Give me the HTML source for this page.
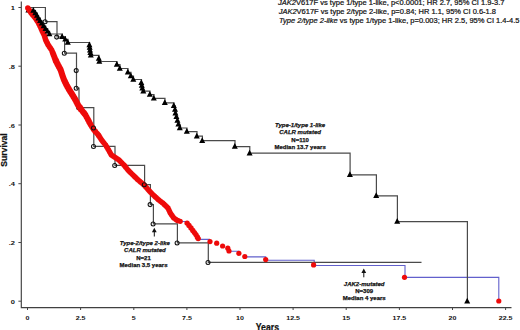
<!DOCTYPE html>
<html><head><meta charset="utf-8"><style>
html,body{margin:0;padding:0;background:#fff;width:520px;height:330px;overflow:hidden}
svg{display:block}
text{font-family:"Liberation Sans",sans-serif;fill:#111;stroke:#111;stroke-width:0.22px}
.tk{font-size:6.8px;font-weight:bold;stroke-width:0}
.ax{font-size:10px;font-weight:bold}
.ax2{font-size:9px;font-weight:bold}
.hd{font-size:7.6px}
.an{font-size:6px;font-weight:bold;stroke-width:0.25px}
</style></head><body>
<svg width="520" height="330" viewBox="0 0 520 330">
<path d="M21.3 1.6V307.6H511.5" fill="none" stroke="#404040" stroke-width="1.15"/>
<path d="M18.4 7.5H21 M18.4 66.2H21 M18.4 125.0H21 M18.4 183.7H21 M18.4 242.5H21 M18.4 301.2H21" stroke="#454545" stroke-width="1"/>
<text transform="translate(15 10.1) scale(1.1 0.86)" text-anchor="end" class="tk">1</text>
<text transform="translate(15 68.8) scale(1.1 0.86)" text-anchor="end" class="tk">.8</text>
<text transform="translate(15 127.6) scale(1.1 0.86)" text-anchor="end" class="tk">.6</text>
<text transform="translate(15 186.3) scale(1.1 0.86)" text-anchor="end" class="tk">.4</text>
<text transform="translate(15 245.1) scale(1.1 0.86)" text-anchor="end" class="tk">.2</text>
<text transform="translate(15 303.8) scale(1.1 0.86)" text-anchor="end" class="tk">0</text>
<path d="M27.5 307.6V310 M80.6 307.6V310 M133.8 307.6V310 M186.9 307.6V310 M240.0 307.6V310 M293.1 307.6V310 M346.2 307.6V310 M399.4 307.6V310 M452.5 307.6V310 M505.6 307.6V310" stroke="#454545" stroke-width="1"/>
<text transform="translate(27.5 320.4) scale(1.04 0.9)" text-anchor="middle" class="tk">0</text>
<text transform="translate(80.6 320.4) scale(1.04 0.9)" text-anchor="middle" class="tk">2.5</text>
<text transform="translate(133.8 320.4) scale(1.04 0.9)" text-anchor="middle" class="tk">5</text>
<text transform="translate(186.9 320.4) scale(1.04 0.9)" text-anchor="middle" class="tk">7.5</text>
<text transform="translate(240.0 320.4) scale(1.04 0.9)" text-anchor="middle" class="tk">10</text>
<text transform="translate(293.1 320.4) scale(1.04 0.9)" text-anchor="middle" class="tk">12.5</text>
<text transform="translate(346.2 320.4) scale(1.04 0.9)" text-anchor="middle" class="tk">15</text>
<text transform="translate(399.4 320.4) scale(1.04 0.9)" text-anchor="middle" class="tk">17.5</text>
<text transform="translate(452.5 320.4) scale(1.04 0.9)" text-anchor="middle" class="tk">20</text>
<text transform="translate(505.6 320.4) scale(1.04 0.9)" text-anchor="middle" class="tk">22.5</text>
<text x="255.7" y="330.6" class="ax" textLength="23.4" lengthAdjust="spacingAndGlyphs">Years</text>
<text transform="translate(6.6 166.7) rotate(-90)" class="ax2" textLength="33.4" lengthAdjust="spacingAndGlyphs">Survival</text>
<text x="278" y="5.4" class="hd" textLength="226.5" lengthAdjust="spacingAndGlyphs"><tspan font-style="italic">JAK2</tspan>V617F vs type 1/type 1-like, p&lt;0.0001; HR 2.7, 95% CI 1.9-3.7</text>
<text x="278.7" y="14.4" class="hd" textLength="217.3" lengthAdjust="spacingAndGlyphs"><tspan font-style="italic">JAK2</tspan>V617F vs type 2/type 2-like, p=0.84; HR 1.1, 95% CI 0.6-1.8</text>
<text x="279" y="23.4" class="hd" textLength="240.5" lengthAdjust="spacingAndGlyphs"><tspan font-style="italic">Type 2/type 2-like</tspan> vs type 1/type 1-like, p=0.003; HR 2.5, 95% CI 1.4-4.5</text>
<path d="M180.5 221.5H187V223 M198 239.4H209.5V241.6 M229 251.2H238.9V253.3 M244.8 256.9H265.7V260.3H314.2V265.5H405V277.4H498.8V301" fill="none" stroke="#6260cc" stroke-width="1.1"/>
<path d="M27.5 7.5H45.4V21.6H57V37H64.6V53.2H76.5V70.5H76.5V88.2H79V107.6H93.8V127.8H93.8V146.4H115V165.3H144.6V184.6H150.4V204.5H153.4V223.8H177.4V242.8H208.3V262.4H421.5" fill="none" stroke="#4a4a4a" stroke-width="1.2"/>
<path d="M27.5 7.5H33.5V10.5H35.5V13H37.2V15.6H38.6V18.2H40.3V20.8H42V23.4H43.8V26H45.7V28.7H47.7V31.4H49.6V34H62.3V36.7H65.4V39.4H68V42.5H89.6V45H89.9V47.6H90.2V50.2H90.6V52.8H91V55.4H99V58.5H99.5V61.5H117V64.5H120V68.5H128V72.3H131V76H133.5V79.5H141.5V82.8H142V85.5H142.5V88.2H143.5V91.2H150V94.6H154V98.4H165V102.8H174V105.8H175.2V109.5H175.6V113.2H176.6V116.9H177.6V120.6H178.6V124.3H180V128H187V131.6H197V136.2H202.4V140.7H235V146.6H249.8V153.2H350.1V174.8H376.4V195.8H397.4V221.6H467.4V301.2" fill="none" stroke="#4a4a4a" stroke-width="1.2"/>
<circle cx="78.7" cy="107.7" r="2" fill="none" stroke="#111" stroke-width="1.05"/>
<path d="M28.4 7L31.4 12.6H25.4Z" fill="#000"/>
<path d="M25.05 8.00a2.75 2.75 0 1 0 5.50 0a2.75 2.75 0 1 0 -5.50 0M25.62 8.83a2.75 2.75 0 1 0 5.50 0a2.75 2.75 0 1 0 -5.50 0M26.18 9.67a2.75 2.75 0 1 0 5.50 0a2.75 2.75 0 1 0 -5.50 0M26.75 10.50a2.75 2.75 0 1 0 5.50 0a2.75 2.75 0 1 0 -5.50 0M27.32 11.33a2.75 2.75 0 1 0 5.50 0a2.75 2.75 0 1 0 -5.50 0M27.88 12.17a2.75 2.75 0 1 0 5.50 0a2.75 2.75 0 1 0 -5.50 0M28.45 13.00a2.75 2.75 0 1 0 5.50 0a2.75 2.75 0 1 0 -5.50 0M29.04 13.71a2.75 2.75 0 1 0 5.50 0a2.75 2.75 0 1 0 -5.50 0M29.62 14.43a2.75 2.75 0 1 0 5.50 0a2.75 2.75 0 1 0 -5.50 0M30.21 15.14a2.75 2.75 0 1 0 5.50 0a2.75 2.75 0 1 0 -5.50 0M30.79 15.86a2.75 2.75 0 1 0 5.50 0a2.75 2.75 0 1 0 -5.50 0M31.38 16.57a2.75 2.75 0 1 0 5.50 0a2.75 2.75 0 1 0 -5.50 0M31.96 17.29a2.75 2.75 0 1 0 5.50 0a2.75 2.75 0 1 0 -5.50 0M32.55 18.00a2.75 2.75 0 1 0 5.50 0a2.75 2.75 0 1 0 -5.50 0M33.09 18.80a2.75 2.75 0 1 0 5.50 0a2.75 2.75 0 1 0 -5.50 0M33.63 19.60a2.75 2.75 0 1 0 5.50 0a2.75 2.75 0 1 0 -5.50 0M34.17 20.40a2.75 2.75 0 1 0 5.50 0a2.75 2.75 0 1 0 -5.50 0M34.71 21.20a2.75 2.75 0 1 0 5.50 0a2.75 2.75 0 1 0 -5.50 0M35.25 22.00a2.75 2.75 0 1 0 5.50 0a2.75 2.75 0 1 0 -5.50 0M35.67 22.83a2.75 2.75 0 1 0 5.50 0a2.75 2.75 0 1 0 -5.50 0M36.08 23.67a2.75 2.75 0 1 0 5.50 0a2.75 2.75 0 1 0 -5.50 0M36.50 24.50a2.75 2.75 0 1 0 5.50 0a2.75 2.75 0 1 0 -5.50 0M36.92 25.33a2.75 2.75 0 1 0 5.50 0a2.75 2.75 0 1 0 -5.50 0M37.33 26.17a2.75 2.75 0 1 0 5.50 0a2.75 2.75 0 1 0 -5.50 0M37.75 27.00a2.75 2.75 0 1 0 5.50 0a2.75 2.75 0 1 0 -5.50 0M38.17 28.00a2.75 2.75 0 1 0 5.50 0a2.75 2.75 0 1 0 -5.50 0M38.60 29.00a2.75 2.75 0 1 0 5.50 0a2.75 2.75 0 1 0 -5.50 0M39.03 30.00a2.75 2.75 0 1 0 5.50 0a2.75 2.75 0 1 0 -5.50 0M39.45 31.00a2.75 2.75 0 1 0 5.50 0a2.75 2.75 0 1 0 -5.50 0M39.95 32.00a2.75 2.75 0 1 0 5.50 0a2.75 2.75 0 1 0 -5.50 0M40.45 33.00a2.75 2.75 0 1 0 5.50 0a2.75 2.75 0 1 0 -5.50 0M40.95 34.00a2.75 2.75 0 1 0 5.50 0a2.75 2.75 0 1 0 -5.50 0M41.45 35.00a2.75 2.75 0 1 0 5.50 0a2.75 2.75 0 1 0 -5.50 0M41.75 36.00a2.75 2.75 0 1 0 5.50 0a2.75 2.75 0 1 0 -5.50 0M42.05 37.00a2.75 2.75 0 1 0 5.50 0a2.75 2.75 0 1 0 -5.50 0M42.35 38.00a2.75 2.75 0 1 0 5.50 0a2.75 2.75 0 1 0 -5.50 0M42.65 39.00a2.75 2.75 0 1 0 5.50 0a2.75 2.75 0 1 0 -5.50 0M42.95 40.00a2.75 2.75 0 1 0 5.50 0a2.75 2.75 0 1 0 -5.50 0M43.37 40.83a2.75 2.75 0 1 0 5.50 0a2.75 2.75 0 1 0 -5.50 0M43.78 41.67a2.75 2.75 0 1 0 5.50 0a2.75 2.75 0 1 0 -5.50 0M44.20 42.50a2.75 2.75 0 1 0 5.50 0a2.75 2.75 0 1 0 -5.50 0M44.62 43.33a2.75 2.75 0 1 0 5.50 0a2.75 2.75 0 1 0 -5.50 0M45.03 44.17a2.75 2.75 0 1 0 5.50 0a2.75 2.75 0 1 0 -5.50 0M45.45 45.00a2.75 2.75 0 1 0 5.50 0a2.75 2.75 0 1 0 -5.50 0M46.02 45.83a2.75 2.75 0 1 0 5.50 0a2.75 2.75 0 1 0 -5.50 0M46.58 46.67a2.75 2.75 0 1 0 5.50 0a2.75 2.75 0 1 0 -5.50 0M47.15 47.50a2.75 2.75 0 1 0 5.50 0a2.75 2.75 0 1 0 -5.50 0M47.72 48.33a2.75 2.75 0 1 0 5.50 0a2.75 2.75 0 1 0 -5.50 0M48.28 49.17a2.75 2.75 0 1 0 5.50 0a2.75 2.75 0 1 0 -5.50 0M48.85 50.00a2.75 2.75 0 1 0 5.50 0a2.75 2.75 0 1 0 -5.50 0M49.22 51.00a2.78 2.78 0 1 0 5.56 0a2.78 2.78 0 1 0 -5.56 0M49.59 52.00a2.81 2.81 0 1 0 5.62 0a2.81 2.81 0 1 0 -5.62 0M49.96 53.00a2.84 2.84 0 1 0 5.67 0a2.84 2.84 0 1 0 -5.67 0M50.33 54.00a2.87 2.87 0 1 0 5.73 0a2.87 2.87 0 1 0 -5.73 0M50.70 55.00a2.90 2.90 0 1 0 5.79 0a2.90 2.90 0 1 0 -5.79 0M51.06 56.00a2.92 2.92 0 1 0 5.85 0a2.92 2.92 0 1 0 -5.85 0M51.41 57.00a2.95 2.95 0 1 0 5.91 0a2.95 2.95 0 1 0 -5.91 0M51.76 58.00a2.98 2.98 0 1 0 5.97 0a2.98 2.98 0 1 0 -5.97 0M52.11 59.00a3.01 3.01 0 1 0 6.03 0a3.01 3.01 0 1 0 -6.03 0M52.46 60.00a3.04 3.04 0 1 0 6.08 0a3.04 3.04 0 1 0 -6.08 0M52.85 60.83a3.07 3.07 0 1 0 6.13 0a3.07 3.07 0 1 0 -6.13 0M53.24 61.67a3.09 3.09 0 1 0 6.18 0a3.09 3.09 0 1 0 -6.18 0M53.65 62.50a3.10 3.10 0 1 0 6.20 0a3.10 3.10 0 1 0 -6.20 0M54.07 63.33a3.10 3.10 0 1 0 6.20 0a3.10 3.10 0 1 0 -6.20 0M54.48 64.17a3.10 3.10 0 1 0 6.20 0a3.10 3.10 0 1 0 -6.20 0M54.90 65.00a3.10 3.10 0 1 0 6.20 0a3.10 3.10 0 1 0 -6.20 0M55.35 65.83a3.10 3.10 0 1 0 6.20 0a3.10 3.10 0 1 0 -6.20 0M55.80 66.67a3.10 3.10 0 1 0 6.20 0a3.10 3.10 0 1 0 -6.20 0M56.25 67.50a3.10 3.10 0 1 0 6.20 0a3.10 3.10 0 1 0 -6.20 0M56.70 68.33a3.10 3.10 0 1 0 6.20 0a3.10 3.10 0 1 0 -6.20 0M57.15 69.17a3.10 3.10 0 1 0 6.20 0a3.10 3.10 0 1 0 -6.20 0M57.60 70.00a3.10 3.10 0 1 0 6.20 0a3.10 3.10 0 1 0 -6.20 0M57.92 71.00a3.10 3.10 0 1 0 6.20 0a3.10 3.10 0 1 0 -6.20 0M58.24 72.00a3.10 3.10 0 1 0 6.20 0a3.10 3.10 0 1 0 -6.20 0M58.56 73.00a3.10 3.10 0 1 0 6.20 0a3.10 3.10 0 1 0 -6.20 0M58.88 74.00a3.10 3.10 0 1 0 6.20 0a3.10 3.10 0 1 0 -6.20 0M59.20 75.00a3.10 3.10 0 1 0 6.20 0a3.10 3.10 0 1 0 -6.20 0M59.56 76.00a3.10 3.10 0 1 0 6.20 0a3.10 3.10 0 1 0 -6.20 0M59.92 77.00a3.10 3.10 0 1 0 6.20 0a3.10 3.10 0 1 0 -6.20 0M60.28 78.00a3.10 3.10 0 1 0 6.20 0a3.10 3.10 0 1 0 -6.20 0M60.64 79.00a3.10 3.10 0 1 0 6.20 0a3.10 3.10 0 1 0 -6.20 0M61.00 80.00a3.10 3.10 0 1 0 6.20 0a3.10 3.10 0 1 0 -6.20 0M61.40 80.83a3.10 3.10 0 1 0 6.20 0a3.10 3.10 0 1 0 -6.20 0M61.80 81.67a3.10 3.10 0 1 0 6.20 0a3.10 3.10 0 1 0 -6.20 0M62.20 82.50a3.10 3.10 0 1 0 6.20 0a3.10 3.10 0 1 0 -6.20 0M62.60 83.33a3.10 3.10 0 1 0 6.20 0a3.10 3.10 0 1 0 -6.20 0M63.00 84.17a3.10 3.10 0 1 0 6.20 0a3.10 3.10 0 1 0 -6.20 0M63.40 85.00a3.10 3.10 0 1 0 6.20 0a3.10 3.10 0 1 0 -6.20 0M63.87 85.83a3.10 3.10 0 1 0 6.20 0a3.10 3.10 0 1 0 -6.20 0M64.33 86.67a3.10 3.10 0 1 0 6.20 0a3.10 3.10 0 1 0 -6.20 0M64.80 87.50a3.10 3.10 0 1 0 6.20 0a3.10 3.10 0 1 0 -6.20 0M65.27 88.33a3.10 3.10 0 1 0 6.20 0a3.10 3.10 0 1 0 -6.20 0M65.73 89.17a3.10 3.10 0 1 0 6.20 0a3.10 3.10 0 1 0 -6.20 0M66.20 90.00a3.10 3.10 0 1 0 6.20 0a3.10 3.10 0 1 0 -6.20 0M66.73 90.83a3.10 3.10 0 1 0 6.20 0a3.10 3.10 0 1 0 -6.20 0M67.27 91.67a3.10 3.10 0 1 0 6.20 0a3.10 3.10 0 1 0 -6.20 0M67.80 92.50a3.10 3.10 0 1 0 6.20 0a3.10 3.10 0 1 0 -6.20 0M68.33 93.33a3.10 3.10 0 1 0 6.20 0a3.10 3.10 0 1 0 -6.20 0M68.87 94.17a3.10 3.10 0 1 0 6.20 0a3.10 3.10 0 1 0 -6.20 0M69.40 95.00a3.10 3.10 0 1 0 6.20 0a3.10 3.10 0 1 0 -6.20 0M69.90 95.83a3.10 3.10 0 1 0 6.20 0a3.10 3.10 0 1 0 -6.20 0M70.40 96.67a3.10 3.10 0 1 0 6.20 0a3.10 3.10 0 1 0 -6.20 0M70.90 97.50a3.10 3.10 0 1 0 6.20 0a3.10 3.10 0 1 0 -6.20 0M71.40 98.33a3.10 3.10 0 1 0 6.20 0a3.10 3.10 0 1 0 -6.20 0M71.90 99.17a3.10 3.10 0 1 0 6.20 0a3.10 3.10 0 1 0 -6.20 0M72.40 100.00a3.10 3.10 0 1 0 6.20 0a3.10 3.10 0 1 0 -6.20 0M72.83 100.83a3.09 3.09 0 1 0 6.18 0a3.09 3.09 0 1 0 -6.18 0M73.25 101.67a3.08 3.08 0 1 0 6.16 0a3.08 3.08 0 1 0 -6.16 0M73.68 102.50a3.07 3.07 0 1 0 6.14 0a3.07 3.07 0 1 0 -6.14 0M74.10 103.33a3.06 3.06 0 1 0 6.12 0a3.06 3.06 0 1 0 -6.12 0M74.53 104.17a3.05 3.05 0 1 0 6.11 0a3.05 3.05 0 1 0 -6.11 0M74.96 105.00a3.04 3.04 0 1 0 6.09 0a3.04 3.04 0 1 0 -6.09 0M75.57 105.83a3.03 3.03 0 1 0 6.07 0a3.03 3.03 0 1 0 -6.07 0M76.17 106.67a3.02 3.02 0 1 0 6.05 0a3.02 3.02 0 1 0 -6.05 0M76.78 107.50a3.02 3.02 0 1 0 6.03 0a3.02 3.02 0 1 0 -6.03 0M77.39 108.33a3.01 3.01 0 1 0 6.01 0a3.01 3.01 0 1 0 -6.01 0M78.00 109.17a3.00 3.00 0 1 0 5.99 0a3.00 3.00 0 1 0 -5.99 0M78.61 110.00a2.99 2.99 0 1 0 5.98 0a2.99 2.99 0 1 0 -5.98 0M79.18 110.71a2.98 2.98 0 1 0 5.96 0a2.98 2.98 0 1 0 -5.96 0M79.74 111.43a2.97 2.97 0 1 0 5.94 0a2.97 2.97 0 1 0 -5.94 0M80.31 112.14a2.96 2.96 0 1 0 5.93 0a2.96 2.96 0 1 0 -5.93 0M80.87 112.86a2.96 2.96 0 1 0 5.91 0a2.96 2.96 0 1 0 -5.91 0M81.44 113.57a2.95 2.95 0 1 0 5.89 0a2.95 2.95 0 1 0 -5.89 0M82.00 114.29a2.94 2.94 0 1 0 5.88 0a2.94 2.94 0 1 0 -5.88 0M82.57 115.00a2.93 2.93 0 1 0 5.86 0a2.93 2.93 0 1 0 -5.86 0M83.03 115.83a2.92 2.92 0 1 0 5.84 0a2.92 2.92 0 1 0 -5.84 0M83.49 116.67a2.91 2.91 0 1 0 5.83 0a2.91 2.91 0 1 0 -5.83 0M83.95 117.50a2.90 2.90 0 1 0 5.81 0a2.90 2.90 0 1 0 -5.81 0M84.41 118.33a2.89 2.89 0 1 0 5.79 0a2.89 2.89 0 1 0 -5.79 0M84.87 119.17a2.88 2.88 0 1 0 5.77 0a2.88 2.88 0 1 0 -5.77 0M85.33 120.00a2.88 2.88 0 1 0 5.75 0a2.88 2.88 0 1 0 -5.75 0M85.77 120.83a2.87 2.87 0 1 0 5.73 0a2.87 2.87 0 1 0 -5.73 0M86.21 121.67a2.86 2.86 0 1 0 5.71 0a2.86 2.86 0 1 0 -5.71 0M86.65 122.50a2.85 2.85 0 1 0 5.69 0a2.85 2.85 0 1 0 -5.69 0M87.10 123.33a2.84 2.84 0 1 0 5.68 0a2.84 2.84 0 1 0 -5.68 0M87.54 124.17a2.83 2.83 0 1 0 5.66 0a2.83 2.83 0 1 0 -5.66 0M87.98 125.00a2.82 2.82 0 1 0 5.64 0a2.82 2.82 0 1 0 -5.64 0M88.52 125.83a2.81 2.81 0 1 0 5.62 0a2.81 2.81 0 1 0 -5.62 0M89.07 126.67a2.80 2.80 0 1 0 5.60 0a2.80 2.80 0 1 0 -5.60 0M89.61 127.50a2.79 2.79 0 1 0 5.58 0a2.79 2.79 0 1 0 -5.58 0M90.15 128.33a2.78 2.78 0 1 0 5.56 0a2.78 2.78 0 1 0 -5.56 0M90.69 129.17a2.77 2.77 0 1 0 5.54 0a2.77 2.77 0 1 0 -5.54 0M91.24 130.00a2.76 2.76 0 1 0 5.53 0a2.76 2.76 0 1 0 -5.53 0M91.87 130.71a2.75 2.75 0 1 0 5.51 0a2.75 2.75 0 1 0 -5.51 0M92.51 131.43a2.75 2.75 0 1 0 5.49 0a2.75 2.75 0 1 0 -5.49 0M93.15 132.14a2.74 2.74 0 1 0 5.48 0a2.74 2.74 0 1 0 -5.48 0M93.78 132.86a2.73 2.73 0 1 0 5.46 0a2.73 2.73 0 1 0 -5.46 0M94.42 133.57a2.72 2.72 0 1 0 5.44 0a2.72 2.72 0 1 0 -5.44 0M95.06 134.29a2.71 2.71 0 1 0 5.43 0a2.71 2.71 0 1 0 -5.43 0M95.69 135.00a2.71 2.71 0 1 0 5.41 0a2.71 2.71 0 1 0 -5.41 0M96.24 135.83a2.70 2.70 0 1 0 5.39 0a2.70 2.70 0 1 0 -5.39 0M96.78 136.67a2.69 2.69 0 1 0 5.38 0a2.69 2.69 0 1 0 -5.38 0M97.32 137.50a2.68 2.68 0 1 0 5.36 0a2.68 2.68 0 1 0 -5.36 0M97.86 138.33a2.67 2.67 0 1 0 5.34 0a2.67 2.67 0 1 0 -5.34 0M98.41 139.17a2.66 2.66 0 1 0 5.32 0a2.66 2.66 0 1 0 -5.32 0M98.95 140.00a2.65 2.65 0 1 0 5.30 0a2.65 2.65 0 1 0 -5.30 0M99.52 140.71a2.65 2.65 0 1 0 5.30 0a2.65 2.65 0 1 0 -5.30 0M100.09 141.43a2.65 2.65 0 1 0 5.30 0a2.65 2.65 0 1 0 -5.30 0M100.66 142.14a2.65 2.65 0 1 0 5.30 0a2.65 2.65 0 1 0 -5.30 0M101.24 142.86a2.65 2.65 0 1 0 5.30 0a2.65 2.65 0 1 0 -5.30 0M101.81 143.57a2.65 2.65 0 1 0 5.30 0a2.65 2.65 0 1 0 -5.30 0M102.38 144.29a2.65 2.65 0 1 0 5.30 0a2.65 2.65 0 1 0 -5.30 0M102.95 145.00a2.65 2.65 0 1 0 5.30 0a2.65 2.65 0 1 0 -5.30 0M103.45 145.83a2.65 2.65 0 1 0 5.30 0a2.65 2.65 0 1 0 -5.30 0M103.95 146.67a2.65 2.65 0 1 0 5.30 0a2.65 2.65 0 1 0 -5.30 0M104.45 147.50a2.65 2.65 0 1 0 5.30 0a2.65 2.65 0 1 0 -5.30 0M104.95 148.33a2.65 2.65 0 1 0 5.30 0a2.65 2.65 0 1 0 -5.30 0M105.45 149.17a2.65 2.65 0 1 0 5.30 0a2.65 2.65 0 1 0 -5.30 0M105.95 150.00a2.65 2.65 0 1 0 5.30 0a2.65 2.65 0 1 0 -5.30 0M106.42 150.83a2.65 2.65 0 1 0 5.30 0a2.65 2.65 0 1 0 -5.30 0M106.88 151.67a2.65 2.65 0 1 0 5.30 0a2.65 2.65 0 1 0 -5.30 0M107.35 152.50a2.65 2.65 0 1 0 5.30 0a2.65 2.65 0 1 0 -5.30 0M107.82 153.33a2.65 2.65 0 1 0 5.30 0a2.65 2.65 0 1 0 -5.30 0M108.28 154.17a2.65 2.65 0 1 0 5.30 0a2.65 2.65 0 1 0 -5.30 0M108.75 155.00a2.65 2.65 0 1 0 5.30 0a2.65 2.65 0 1 0 -5.30 0M109.52 155.50a2.65 2.65 0 1 0 5.30 0a2.65 2.65 0 1 0 -5.30 0M110.28 156.00a2.65 2.65 0 1 0 5.30 0a2.65 2.65 0 1 0 -5.30 0M111.05 156.50a2.65 2.65 0 1 0 5.30 0a2.65 2.65 0 1 0 -5.30 0M111.82 157.00a2.65 2.65 0 1 0 5.30 0a2.65 2.65 0 1 0 -5.30 0M112.58 157.50a2.65 2.65 0 1 0 5.30 0a2.65 2.65 0 1 0 -5.30 0M113.35 158.00a2.65 2.65 0 1 0 5.30 0a2.65 2.65 0 1 0 -5.30 0M114.10 158.50a2.65 2.65 0 1 0 5.30 0a2.65 2.65 0 1 0 -5.30 0M114.85 159.00a2.65 2.65 0 1 0 5.30 0a2.65 2.65 0 1 0 -5.30 0M115.60 159.50a2.65 2.65 0 1 0 5.30 0a2.65 2.65 0 1 0 -5.30 0M116.35 160.00a2.65 2.65 0 1 0 5.30 0a2.65 2.65 0 1 0 -5.30 0M117.06 160.71a2.65 2.65 0 1 0 5.30 0a2.65 2.65 0 1 0 -5.30 0M117.78 161.43a2.65 2.65 0 1 0 5.30 0a2.65 2.65 0 1 0 -5.30 0M118.49 162.14a2.65 2.65 0 1 0 5.30 0a2.65 2.65 0 1 0 -5.30 0M119.21 162.86a2.65 2.65 0 1 0 5.30 0a2.65 2.65 0 1 0 -5.30 0M119.92 163.57a2.65 2.65 0 1 0 5.30 0a2.65 2.65 0 1 0 -5.30 0M120.64 164.29a2.65 2.65 0 1 0 5.30 0a2.65 2.65 0 1 0 -5.30 0M121.35 165.00a2.65 2.65 0 1 0 5.30 0a2.65 2.65 0 1 0 -5.30 0M121.92 165.71a2.65 2.65 0 1 0 5.30 0a2.65 2.65 0 1 0 -5.30 0M122.49 166.43a2.65 2.65 0 1 0 5.30 0a2.65 2.65 0 1 0 -5.30 0M123.06 167.14a2.65 2.65 0 1 0 5.30 0a2.65 2.65 0 1 0 -5.30 0M123.64 167.86a2.65 2.65 0 1 0 5.30 0a2.65 2.65 0 1 0 -5.30 0M124.21 168.57a2.65 2.65 0 1 0 5.30 0a2.65 2.65 0 1 0 -5.30 0M124.78 169.29a2.65 2.65 0 1 0 5.30 0a2.65 2.65 0 1 0 -5.30 0M125.35 170.00a2.65 2.65 0 1 0 5.30 0a2.65 2.65 0 1 0 -5.30 0M126.06 170.71a2.65 2.65 0 1 0 5.30 0a2.65 2.65 0 1 0 -5.30 0M126.78 171.43a2.65 2.65 0 1 0 5.30 0a2.65 2.65 0 1 0 -5.30 0M127.49 172.14a2.65 2.65 0 1 0 5.30 0a2.65 2.65 0 1 0 -5.30 0M128.21 172.86a2.65 2.65 0 1 0 5.30 0a2.65 2.65 0 1 0 -5.30 0M128.92 173.57a2.65 2.65 0 1 0 5.30 0a2.65 2.65 0 1 0 -5.30 0M129.64 174.29a2.65 2.65 0 1 0 5.30 0a2.65 2.65 0 1 0 -5.30 0M130.35 175.00a2.65 2.65 0 1 0 5.30 0a2.65 2.65 0 1 0 -5.30 0M131.00 175.62a2.65 2.65 0 1 0 5.30 0a2.65 2.65 0 1 0 -5.30 0M131.65 176.25a2.65 2.65 0 1 0 5.30 0a2.65 2.65 0 1 0 -5.30 0M132.30 176.88a2.65 2.65 0 1 0 5.30 0a2.65 2.65 0 1 0 -5.30 0M132.95 177.50a2.65 2.65 0 1 0 5.30 0a2.65 2.65 0 1 0 -5.30 0M133.60 178.12a2.65 2.65 0 1 0 5.30 0a2.65 2.65 0 1 0 -5.30 0M134.25 178.75a2.65 2.65 0 1 0 5.30 0a2.65 2.65 0 1 0 -5.30 0M134.90 179.38a2.65 2.65 0 1 0 5.30 0a2.65 2.65 0 1 0 -5.30 0M135.55 180.00a2.65 2.65 0 1 0 5.30 0a2.65 2.65 0 1 0 -5.30 0M136.30 180.62a2.65 2.65 0 1 0 5.30 0a2.65 2.65 0 1 0 -5.30 0M137.05 181.25a2.65 2.65 0 1 0 5.30 0a2.65 2.65 0 1 0 -5.30 0M137.80 181.88a2.65 2.65 0 1 0 5.30 0a2.65 2.65 0 1 0 -5.30 0M138.55 182.50a2.65 2.65 0 1 0 5.30 0a2.65 2.65 0 1 0 -5.30 0M139.30 183.12a2.65 2.65 0 1 0 5.30 0a2.65 2.65 0 1 0 -5.30 0M140.05 183.75a2.65 2.65 0 1 0 5.30 0a2.65 2.65 0 1 0 -5.30 0M140.80 184.38a2.65 2.65 0 1 0 5.30 0a2.65 2.65 0 1 0 -5.30 0M141.55 185.00a2.65 2.65 0 1 0 5.30 0a2.65 2.65 0 1 0 -5.30 0M142.16 185.71a2.65 2.65 0 1 0 5.30 0a2.65 2.65 0 1 0 -5.30 0M142.78 186.43a2.65 2.65 0 1 0 5.30 0a2.65 2.65 0 1 0 -5.30 0M143.39 187.14a2.65 2.65 0 1 0 5.30 0a2.65 2.65 0 1 0 -5.30 0M144.01 187.86a2.65 2.65 0 1 0 5.30 0a2.65 2.65 0 1 0 -5.30 0M144.62 188.57a2.65 2.65 0 1 0 5.30 0a2.65 2.65 0 1 0 -5.30 0M145.24 189.29a2.65 2.65 0 1 0 5.30 0a2.65 2.65 0 1 0 -5.30 0M145.85 190.00a2.65 2.65 0 1 0 5.30 0a2.65 2.65 0 1 0 -5.30 0M146.54 190.71a2.65 2.65 0 1 0 5.30 0a2.65 2.65 0 1 0 -5.30 0M147.22 191.43a2.65 2.65 0 1 0 5.30 0a2.65 2.65 0 1 0 -5.30 0M147.91 192.14a2.65 2.65 0 1 0 5.30 0a2.65 2.65 0 1 0 -5.30 0M148.59 192.86a2.65 2.65 0 1 0 5.30 0a2.65 2.65 0 1 0 -5.30 0M149.28 193.57a2.65 2.65 0 1 0 5.30 0a2.65 2.65 0 1 0 -5.30 0M149.96 194.29a2.65 2.65 0 1 0 5.30 0a2.65 2.65 0 1 0 -5.30 0M150.65 195.00a2.65 2.65 0 1 0 5.30 0a2.65 2.65 0 1 0 -5.30 0M151.34 195.62a2.65 2.65 0 1 0 5.30 0a2.65 2.65 0 1 0 -5.30 0M152.03 196.25a2.65 2.65 0 1 0 5.30 0a2.65 2.65 0 1 0 -5.30 0M152.71 196.88a2.65 2.65 0 1 0 5.30 0a2.65 2.65 0 1 0 -5.30 0M153.40 197.50a2.65 2.65 0 1 0 5.30 0a2.65 2.65 0 1 0 -5.30 0M154.09 198.12a2.65 2.65 0 1 0 5.30 0a2.65 2.65 0 1 0 -5.30 0M154.78 198.75a2.65 2.65 0 1 0 5.30 0a2.65 2.65 0 1 0 -5.30 0M155.46 199.38a2.65 2.65 0 1 0 5.30 0a2.65 2.65 0 1 0 -5.30 0M156.15 200.00a2.65 2.65 0 1 0 5.30 0a2.65 2.65 0 1 0 -5.30 0M156.95 200.60a2.65 2.65 0 1 0 5.30 0a2.65 2.65 0 1 0 -5.30 0M157.75 201.20a2.65 2.65 0 1 0 5.30 0a2.65 2.65 0 1 0 -5.30 0M158.55 201.80a2.65 2.65 0 1 0 5.30 0a2.65 2.65 0 1 0 -5.30 0M159.35 202.40a2.65 2.65 0 1 0 5.30 0a2.65 2.65 0 1 0 -5.30 0M160.15 203.00a2.65 2.65 0 1 0 5.30 0a2.65 2.65 0 1 0 -5.30 0M160.80 203.62a2.65 2.65 0 1 0 5.30 0a2.65 2.65 0 1 0 -5.30 0M161.45 204.25a2.65 2.65 0 1 0 5.30 0a2.65 2.65 0 1 0 -5.30 0M162.10 204.88a2.65 2.65 0 1 0 5.30 0a2.65 2.65 0 1 0 -5.30 0M162.75 205.50a2.65 2.65 0 1 0 5.30 0a2.65 2.65 0 1 0 -5.30 0M163.40 206.12a2.65 2.65 0 1 0 5.30 0a2.65 2.65 0 1 0 -5.30 0M164.05 206.75a2.65 2.65 0 1 0 5.30 0a2.65 2.65 0 1 0 -5.30 0M164.70 207.38a2.65 2.65 0 1 0 5.30 0a2.65 2.65 0 1 0 -5.30 0M165.35 208.00a2.65 2.65 0 1 0 5.30 0a2.65 2.65 0 1 0 -5.30 0M165.73 208.83a2.65 2.65 0 1 0 5.30 0a2.65 2.65 0 1 0 -5.30 0M166.12 209.67a2.65 2.65 0 1 0 5.30 0a2.65 2.65 0 1 0 -5.30 0M166.50 210.50a2.65 2.65 0 1 0 5.30 0a2.65 2.65 0 1 0 -5.30 0M166.88 211.33a2.65 2.65 0 1 0 5.30 0a2.65 2.65 0 1 0 -5.30 0M167.27 212.17a2.65 2.65 0 1 0 5.30 0a2.65 2.65 0 1 0 -5.30 0M167.65 213.00a2.65 2.65 0 1 0 5.30 0a2.65 2.65 0 1 0 -5.30 0M168.23 213.83a2.65 2.65 0 1 0 5.30 0a2.65 2.65 0 1 0 -5.30 0M168.82 214.67a2.65 2.65 0 1 0 5.30 0a2.65 2.65 0 1 0 -5.30 0M169.40 215.50a2.65 2.65 0 1 0 5.30 0a2.65 2.65 0 1 0 -5.30 0M169.98 216.33a2.65 2.65 0 1 0 5.30 0a2.65 2.65 0 1 0 -5.30 0M170.57 217.17a2.65 2.65 0 1 0 5.30 0a2.65 2.65 0 1 0 -5.30 0M171.15 218.00a2.65 2.65 0 1 0 5.30 0a2.65 2.65 0 1 0 -5.30 0M172.08 218.62a2.65 2.65 0 1 0 5.30 0a2.65 2.65 0 1 0 -5.30 0M173.00 219.25a2.65 2.65 0 1 0 5.30 0a2.65 2.65 0 1 0 -5.30 0M173.92 219.88a2.65 2.65 0 1 0 5.30 0a2.65 2.65 0 1 0 -5.30 0M174.85 220.50a2.65 2.65 0 1 0 5.30 0a2.65 2.65 0 1 0 -5.30 0M175.75 220.77a2.65 2.65 0 1 0 5.30 0a2.65 2.65 0 1 0 -5.30 0M176.65 221.03a2.65 2.65 0 1 0 5.30 0a2.65 2.65 0 1 0 -5.30 0M177.55 221.30a2.65 2.65 0 1 0 5.30 0a2.65 2.65 0 1 0 -5.30 0" fill="#ee0a0a"/>
<circle cx="187.1" cy="223.1" r="2.7" fill="#ee0a0a"/>
<circle cx="189" cy="225.5" r="2.7" fill="#ee0a0a"/>
<circle cx="191" cy="228" r="2.7" fill="#ee0a0a"/>
<circle cx="192.8" cy="230.5" r="2.7" fill="#ee0a0a"/>
<circle cx="194.4" cy="232.6" r="2.7" fill="#ee0a0a"/>
<circle cx="195.9" cy="234.6" r="2.7" fill="#ee0a0a"/>
<circle cx="197.3" cy="236.9" r="2.7" fill="#ee0a0a"/>
<circle cx="198.2" cy="238.6" r="2.7" fill="#ee0a0a"/>
<circle cx="210" cy="241.6" r="2.6" fill="#ee0a0a"/>
<circle cx="216.7" cy="243.2" r="2.6" fill="#ee0a0a"/>
<circle cx="222.6" cy="246" r="2.6" fill="#ee0a0a"/>
<circle cx="227.8" cy="248.2" r="2.6" fill="#ee0a0a"/>
<circle cx="229" cy="251" r="2.6" fill="#ee0a0a"/>
<circle cx="238.9" cy="253.3" r="2.6" fill="#ee0a0a"/>
<circle cx="244.8" cy="256.5" r="2.6" fill="#ee0a0a"/>
<circle cx="265.7" cy="259.6" r="2.6" fill="#ee0a0a"/>
<circle cx="313.6" cy="264.9" r="2.6" fill="#ee0a0a"/>
<circle cx="404.5" cy="277.3" r="2.6" fill="#ee0a0a"/>
<circle cx="498.8" cy="301" r="2.6" fill="#ee0a0a"/>
<path d="M33.30 7.00L36.30 12.70H30.30ZM35.30 9.50L38.30 15.20H32.30ZM37.00 12.10L40.00 17.80H34.00ZM38.40 14.70L41.40 20.40H35.40ZM40.10 17.30L43.10 23.00H37.10ZM41.80 19.90L44.80 25.60H38.80ZM43.60 22.50L46.60 28.20H40.60ZM45.50 25.20L48.50 30.90H42.50ZM47.50 27.90L50.50 33.60H44.50ZM49.40 30.50L52.40 36.20H46.40ZM62.10 33.20L65.10 38.90H59.10ZM65.20 35.90L68.20 41.60H62.20ZM67.80 39.00L70.80 44.70H64.80ZM89.40 41.50L92.40 47.20H86.40ZM89.70 44.10L92.70 49.80H86.70ZM90.00 46.70L93.00 52.40H87.00ZM90.40 49.30L93.40 55.00H87.40ZM90.80 51.90L93.80 57.60H87.80ZM98.80 55.00L101.80 60.70H95.80ZM99.30 58.00L102.30 63.70H96.30ZM116.80 61.00L119.80 66.70H113.80ZM119.80 65.00L122.80 70.70H116.80ZM127.80 68.80L130.80 74.50H124.80ZM130.80 72.50L133.80 78.20H127.80ZM133.30 76.00L136.30 81.70H130.30ZM141.30 79.30L144.30 85.00H138.30ZM141.80 82.00L144.80 87.70H138.80ZM142.30 84.70L145.30 90.40H139.30ZM143.30 87.70L146.30 93.40H140.30ZM149.80 91.10L152.80 96.80H146.80ZM153.80 94.90L156.80 100.60H150.80ZM164.80 99.30L167.80 105.00H161.80ZM173.80 102.30L176.80 108.00H170.80ZM175.00 106.00L178.00 111.70H172.00ZM175.40 109.70L178.40 115.40H172.40ZM176.40 113.40L179.40 119.10H173.40ZM177.40 117.10L180.40 122.80H174.40ZM178.40 120.80L181.40 126.50H175.40ZM179.80 124.50L182.80 130.20H176.80ZM186.80 128.10L189.80 133.80H183.80ZM196.80 132.70L199.80 138.40H193.80ZM202.20 137.20L205.20 142.90H199.20ZM234.80 143.10L237.80 148.80H231.80ZM249.60 149.70L252.60 155.40H246.60ZM349.90 171.30L352.90 177.00H346.90ZM376.20 192.30L379.20 198.00H373.20ZM397.20 218.10L400.20 223.80H394.20ZM467.20 297.70L470.20 303.40H464.20Z" fill="#000"/>
<circle cx="45.1" cy="21.700000000000003" r="2" fill="none" stroke="#111" stroke-width="1.05"/>
<circle cx="56.7" cy="37.1" r="2" fill="none" stroke="#111" stroke-width="1.05"/>
<circle cx="64.3" cy="53.300000000000004" r="2" fill="none" stroke="#111" stroke-width="1.05"/>
<circle cx="76.2" cy="70.6" r="2" fill="none" stroke="#111" stroke-width="1.05"/>
<circle cx="76.2" cy="88.3" r="2" fill="none" stroke="#111" stroke-width="1.05"/>
<circle cx="93.5" cy="127.89999999999999" r="2" fill="none" stroke="#111" stroke-width="1.05"/>
<circle cx="93.5" cy="146.5" r="2" fill="none" stroke="#111" stroke-width="1.05"/>
<circle cx="114.7" cy="165.4" r="2" fill="none" stroke="#111" stroke-width="1.05"/>
<circle cx="144.29999999999998" cy="184.7" r="2" fill="none" stroke="#111" stroke-width="1.05"/>
<circle cx="150.1" cy="204.6" r="2" fill="none" stroke="#111" stroke-width="1.05"/>
<circle cx="153.1" cy="223.9" r="2" fill="none" stroke="#111" stroke-width="1.05"/>
<circle cx="177.1" cy="242.9" r="2" fill="none" stroke="#111" stroke-width="1.05"/>
<circle cx="208.0" cy="262.5" r="2" fill="none" stroke="#111" stroke-width="1.05"/>
<text x="300.1" y="127.2" text-anchor="middle" class="an" font-style="italic">Type-1/type 1-like</text>
<text x="300.1" y="134.4" text-anchor="middle" class="an" font-style="italic">CALR mutated</text>
<text x="300.1" y="141.6" text-anchor="middle" class="an">N=110</text>
<text x="300.1" y="148.8" text-anchor="middle" class="an">Median 13.7 years</text>
<text x="144.9" y="245.1" text-anchor="middle" class="an" font-style="italic">Type-2/type 2-like</text>
<text x="144.9" y="252.3" text-anchor="middle" class="an" font-style="italic">CALR mutated</text>
<text x="143.5" y="259.5" text-anchor="middle" class="an">N=21</text>
<text x="143.5" y="266.7" text-anchor="middle" class="an">Median 3.5 years</text>
<text x="364.2" y="285.9" text-anchor="middle" class="an" font-style="italic">JAK2-mutated</text>
<text x="364.2" y="293.1" text-anchor="middle" class="an">N=309</text>
<text x="364.2" y="300.3" text-anchor="middle" class="an">Median 4 years</text>
<path d="M154.3 236.5V230.5M363.8 277.3V271.5" stroke="#111" stroke-width="1"/>
<path d="M154.3 227.8L151.9 232.3H156.7Z M363.8 268.5L361.4 273H366.2Z" fill="#111"/>
</svg>
</body></html>
